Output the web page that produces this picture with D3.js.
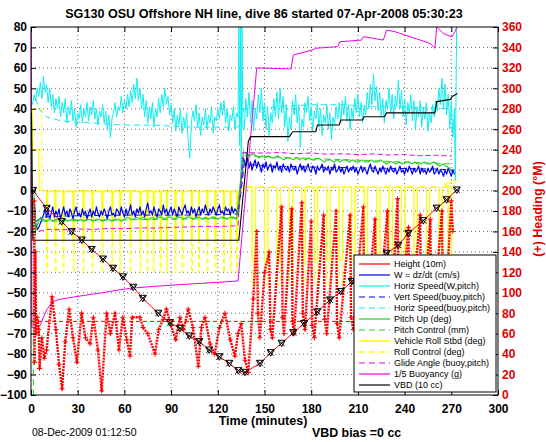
<!DOCTYPE html>
<html><head><meta charset="utf-8">
<script src="https://cdn.jsdelivr.net/npm/d3@7"></script>
<style>
body{margin:0;background:#fff;}
svg{display:block;font-family:"Liberation Sans",Arial,Helvetica,sans-serif;}
</style></head><body>
<svg id="c" width="546" height="442"></svg>
<script>
// ---------------- DATA ----------------
const titleText = "SG130 OSU Offshore NH line, dive 86 started 07-Apr-2008 05:30:23";
const xTicks = [0,30,60,90,120,150,180,210,240,270,300];
const yTicks = [80,70,60,50,40,30,20,10,0,-10,-20,-30,-40,-50,-60,-70,-80,-90,-100];
const rTicks = [0,20,40,60,80,100,120,140,160,180,200,220,240,260,280,300,320,340,360];
const legendLabels = ["Height (10m)","W = dz/dt (cm/s)","Horiz Speed(W,pitch)","Vert Speed(buoy,pitch)","Horiz Speed(buoy,pitch)","Pitch Up (deg)","Pitch Control (mm)","Vehicle Roll Stbd (deg)","Roll Control (deg)","Glide Angle (buoy,pitch)","1/5 Buoyancy (g)","VBD (10 cc)"];

// depth (Height, 10 m units)
const depthT = [1.3,10.1,19.7,26.1,32.6,39,46.3,52.7,59.1,65.7,71.8,81.8,89.3,95.7,101.7,108.1,114.5,121,127.4,133.2,137.5,147.1,154,161,168.5,175.4,183.9,192.1,199,206,228.5,236,242.4,252,260.6,267,273.5];
const depthV = [0,-8.7,-15.2,-20.1,-24.2,-28.8,-33.5,-38,-42.2,-47.3,-52.7,-60,-64.6,-67.4,-71.1,-73.9,-78,-81.3,-84.5,-88.1,-88.9,-84.5,-79.3,-74.7,-69.5,-65,-59.3,-53.5,-49.4,-44.5,-30.7,-26.7,-20.9,-14.7,-8.6,-4.5,0.3];

// Horiz speed (W,pitch): 1-minute samples
const hspdDescStart = 1;
const hspdDesc = [42,47,44,50,46,53,45,56,48,52, 43,50,41,47,38,45,40,46,36,43, 38,45,33,41,37,44,34,40,31,38,
 35,42,33,40,36,43,34,41,37,44, 35,40,32,39,36,42,33,39,30,37, 26,35,38,43,36,41,39,46,38,44,
 40,47,41,49,43,52,45,55,44,50, 40,47,36,44,33,41,35,43,31,40, 36,45,38,47,41,50,42,46,37,42,
 33,40,29,37,32,40,28,36,31,38, 24,16,33,39,34,42,31,38,27,36, 32,40,30,37,33,41,28,36,34,40,
 35,43,37,44,33,40,29,37,34,41, 30,38,36];
const hspdSpikeT = [133.5,134,134.5,135,135.5,136.2];
const hspdSpikeV = [80,22,80,6,80,30];
const hspdAscStart = 137;
const hspdAsc = [30,45,36,48,33,44,29,40,35,47, 38,50,34,43,30,41,27,38,33,45, 36,48,35,50,38,46,31,42,24,36,
 30,44,37,47,33,42,21,35,31,43, 38,46,34,41,29,39,35,43,31,40, 27,37,33,42,30,38,25,36,32,41,
 35,43,33,44,37,46,34,42,30,40, 35,45,38,47,36,43,33,41,37,48, 40,52,42,57,44,51,39,48,36,45,
 33,44,40,50,38,47,35,46,41,54, 40,49,36,45,32,43,38,47,34,44, 30,41,36,44,31,40,35,43,29,38,
 33,42,36,44,39,50,42,55,40,52, 37,47,30,44,26,40];
const hspdEndT = [272.6,273.4];
const hspdEndV = [5,80];

// Horiz speed (buoy,pitch)
const hspdBuoyT = [3,5,10,20,40,60,80,100,133,137,140,160,180,200,220,240,270];
const hspdBuoyV = [45,40,36,34,33,32,32,31,31,40,40,41,42,42,41,41,40];

// W = dz/dt : 1-minute samples
const wDescStart = 2;
const wDesc = [-4,-16,-19,-18,-16,-14,
 -12,-9,-13,-10,-14,-11,-8,-13,-10,-12, -9,-14,-11,-8,-12,-10,-13,-9,-11,-14, -10,-8,-12,-11,-13,-9,-12,-10,-14,-11,
 -9,-13,-10,-12,-8,-11,-13,-10,-12,-9, -11,-14,-10,-8,-12,-11,-13,-9,-10,-12, -8,-11,-13,-9,-12,-10,-7,-12,-10,-13,
 -9,-11,-8,-12,-10,-13,-9,-6,-11,-10, -12,-8,-11,-13,-9,-10,-12,-7,-11,-9, -12,-10,-8,-12,-9,-11,-13,-8,-10,-12,
 -9,-7,-11,-10,-12,-8,-11,-9,-13,-10, -8,-12,-9,-11,-7,-10,-12,-9,-11,-8, -10,-12,-9,-7,-11,-10,-12,-8,-10,-9,
 -12,-8,-11,-9,-10,-12];
const wTurnT = [134,135.5,136.5];
const wTurnV = [-4,8,16];
const wAscStart = 137;
const wAsc = [15,12,16,11,14,10,13,15,11,14, 12,9,13,11,14,10,12,13,9,12, 11,14,10,12,9,13,11,10,12,9,
 13,11,10,12,8,11,13,10,12,9, 11,13,10,9,12,11,8,12,10,11, 13,9,11,10,12,8,11,10,13,9,
 10,12,9,11,8,10,12,9,11,10, 12,9,11,8,10,12,9,11,10,8, 11,13,10,9,12,10,8,11,9,12,
 10,8,11,9,12,10,9,11,8,10, 12,9,10,8,11,9,12,10,8,11, 9,10,12,8,11,9,10,8,11,9,
 10,12,8,9,11,8,10,9,7,10, 8,11,9,7,10,8];

// Vert speed (buoy,pitch)
const wBuoyT = [3,8,20,60,100,133,135,137,150,180,220,260,272];
const wBuoyV = [-15,-13,-12.5,-12,-12,-11.5,0,13,12,11.5,11,10.5,10];

// Pitch up: 2-minute samples
const pitchHeadT = [2,3];
const pitchHeadV = [-2,-20];
const pitchDescStart = 4;
const pitchDesc = [-17,-13,-14,-15,-14,-15,-14,-14,-15,-14, -15,-14,-14,-15,-14,-15,-14,-14,-15,-14,
 -14,-15,-14,-14,-15,-14,-14,-15,-14,-13, -14,-14,-13,-14,-13,-14,-14,-13,-14,-13, -13,-14,-13,-13,-14,-13,-13,-14,-13,-13,
 -14,-13,-13,-14,-13,-14,-13,-13,-14,-13, -13,-14,-13,-13,-14];
const pitchAscStart = 136.5;
const pitchAsc = [19,18,17,18,17,16,17,16,17,16, 16,17,16,15,16,16,15,16,15,16, 15,16,15,15,16,15,14,15,15,14,
 15,14,15,15,14,15,14,14,15,14, 14,15,14,14,15,14,13,14,14,13, 14,13,14,14,13,14,13,13,14,13,
 13,14,13,12,13,12,11,10];

// Pitch control
const pitchCtlT = [1.5,1.5,3,133,136.5,272];
const pitchCtlV = [-105,-62,-15,-13.5,17,13];

// Roll (solid) and roll control (dashed): baseline and dip times
const rollStartT = [0.5,0.8,1.2,5,5.3];
const rollStartV = [0,40,20,20,0];
const rollDipsDesc = [10,15.4,20.5,27,33.4,39.2,45.6,52,57,63.6,70,74.5,78.5,83,87,92.5,97,103,107.6,113,118.2,123.6,128,132];
const rollDipsAsc = [142,150,158,166,174,182,190,198,206,214,222,230,238,246,254,262,268];
const rollCtlStartT = [0.5,6.9,6.9];
const rollCtlStartV = [40,40,0];

// Glide angle (buoy,pitch)
const glideT = [5,10,20,30,40,50,60,70,80,90,100,110,120,133,136,140,150,160,170,180,190,200,210,220,230,240,250,260,270];
const glideV = [-20,-19,-19.2,-18.8,-19,-18.5,-18.7,-18.2,-18.4,-18,-17.8,-17.5,-17.6,-17.2,18.5,18.5,18.3,18.6,18,18.4,17.8,18,17.6,17.9,17.4,17.6,17,17.3,16.8];

// 1/5 Buoyancy
const buoyT = [0.2,0.6,4,6,8,10,14,18,23,35,44,55,64,80,100,120,133,145,167,168.5,181,183,197,198.5,212.4,213.5,226.3,228.5,233.8,256.3,259.5,260.6,264.9,270.3,272.4,273.5];
const buoyV = [80,-67,-67.5,-65.8,-62,-58.4,-54.3,-53.3,-52.6,-51.2,-50.2,-48.8,-47.8,-46.8,-45.8,-44.9,-44.2,60,59.5,66.3,68.8,69.6,70.4,72.8,73.6,75.3,73.6,78.5,77.7,72,69.6,80,76.8,75.2,77.7,80];

// VBD (10 cc)
const vbdT = [0.3,1.2,133.5,139.6,141,166,168,183,184,198,199,213,214,227,228.5,259.5,260.6,269.5,270.5,274];
const vbdV = [38,-24.3,-24.3,24,26.4,26.4,28.8,28.8,32.1,32.1,34.5,34.5,36.1,36.1,38,38,43.5,44.6,46,47.5];

// Heading (degrees, right axis)
const headT = [2.0,2.3,2.8,3.3,4,5,5.5,7,8.5,10,13.5,16,18,20,22,24.5,27,29.5,32.5,35,38,40,43,45.4,48.6,51,54,56.5,59,61.5,63.6,65,70,72,75,79.7,82,85,87,90,93,95.7,98,101,104,107.5,109.5,111.8,115,118,121,124.6,128,131,133,135,137.5,139.6,
 142.8,145,145.8,147,150,153,153.8,155,161,161.6,162.5,167.5,168,169,174,174.6,176,180,180.6,182,188,188.6,190,196,196.6,198,205,205.6,207,213.5,214,215.5,221,221.6,223,229,229.6,231,235.5,236,237.5,242.5,243,244.5,250,250.6,252,256.5,257,258.5,264,264.6,266,270,271];
const headV = [190,32,140,60,76,64,26,56,36,44,96,64,30,6,52,84,56,32,80,56,50,76,44,4,80,60,80,44,76,54,38,76,76,66,60,40,64,74,84,68,54,76,64,84,66,28,66,76,50,40,66,80,54,38,60,70,34,22,
 94,160,80,56,120,140,64,56,184,76,60,182,72,60,188,80,64,170,68,56,176,74,60,180,70,56,176,76,64,184,80,68,172,84,72,180,76,68,192,90,76,164,88,76,176,80,70,172,84,74,180,84,76,190,160];
const headDesired = 72;

// ---------------- DRAW ----------------
const P = {l:31, r:498, t:27, b:395};
const x = d3.scaleLinear().domain([0,300]).range([P.l,P.r]);
const yL = d3.scaleLinear().domain([-100,80]).range([P.b,P.t]);
const yR = d3.scaleLinear().domain([0,360]).range([P.b,P.t]);
const svg = d3.select('#c');

const C = {red:'#ff0000', blue:'#0000f0', cyan:'#10eef0', green:'#22cc22', yellow:'#ffff00', magenta:'#ee00ee', black:'#000000'};

svg.append('defs').append('clipPath').attr('id','clip').append('rect')
  .attr('x',P.l).attr('y',P.t).attr('width',P.r-P.l).attr('height',P.b-P.t);

// grid
const grid = svg.append('g').attr('stroke','#444').attr('stroke-width',0.8).attr('stroke-dasharray','1,3');
xTicks.filter(t=>t>0&&t<300).forEach(t=>grid.append('line').attr('x1',x(t)).attr('x2',x(t)).attr('y1',P.t).attr('y2',P.b));
yTicks.filter(t=>t>-100&&t<80).forEach(t=>grid.append('line').attr('x1',P.l).attr('x2',P.r).attr('y1',yL(t)).attr('y2',yL(t)));

const seq = (t0, step, vals) => vals.map((v,i)=>[t0+i*step, v]);
const pairs = (ts, vs) => ts.map((t,i)=>[t, vs[i]]);
function squareWave(dips, width, base, depth){
  const pts=[];
  dips.forEach(d=>{pts.push([d,base],[d,depth],[d+width,depth],[d+width,base]);});
  return pts;
}

const plot = svg.append('g').attr('clip-path','url(#clip)');
const lineL = d3.line().x(d=>x(d[0])).y(d=>yL(d[1]));
const lineR = d3.line().x(d=>x(d[0])).y(d=>yR(d[1]));
function draw(pts, color, dash, w, gen){
  plot.append('path').attr('d',(gen||lineL)(pts)).attr('fill','none').attr('stroke',color)
    .attr('stroke-width',w||1).attr('stroke-dasharray',dash||null).attr('stroke-linejoin','round');
}

// roll control (dashed) and roll (solid)
const rollCtl = pairs(rollCtlStartT, rollCtlStartV)
  .concat(squareWave(rollDipsDesc, 0.7, 0, -40))
  .concat([[134,0],[137,2]])
  .concat(squareWave(rollDipsAsc, 2.2, 2, -46))
  .concat([[273,2]]);
draw(rollCtl, C.yellow, '5,3', 1);
const roll = pairs(rollStartT, rollStartV)
  .concat(squareWave(rollDipsDesc, 0.6, -0.5, -24))
  .concat([[134,-0.5],[137,1.5]])
  .concat(squareWave(rollDipsAsc, 2.2, 1.5, -34))
  .concat([[266,3],[272,5],[273,3]]);
draw(roll, C.yellow, null, 1.1);

// horizontal speeds
draw(pairs(hspdBuoyT, hspdBuoyV), C.cyan, '6,4', 1);
const hspd = seq(hspdDescStart,1,hspdDesc).concat(pairs(hspdSpikeT,hspdSpikeV))
  .concat(seq(hspdAscStart,1,hspdAsc)).concat(pairs(hspdEndT,hspdEndV));
draw(hspd, C.cyan, null, 1);

// vertical speeds
draw(pairs(wBuoyT,wBuoyV), C.blue, '6,4', 1);
const w = seq(wDescStart,1,wDesc).concat(pairs(wTurnT,wTurnV)).concat(seq(wAscStart,1,wAsc));
draw(w, C.blue, null, 1.2);

// pitch
draw(pairs(pitchCtlT,pitchCtlV), C.green, '6,4', 1);
const pitch = pairs(pitchHeadT,pitchHeadV).concat(seq(pitchDescStart,2,pitchDesc)).concat(seq(pitchAscStart,2,pitchAsc));
draw(pitch, C.green, null, 1.1);

// glide angle
draw(pairs(glideT,glideV), C.magenta, '5,3', 1);
// buoyancy
draw(pairs(buoyT,buoyV), C.magenta, null, 1);
// VBD
draw(pairs(vbdT,vbdV), C.black, null, 1.1);

// heading (right axis)
plot.append('line').attr('x1',x(0)).attr('x2',x(274)).attr('y1',yR(headDesired)).attr('y2',yR(headDesired))
  .attr('stroke',C.red).attr('stroke-width',1).attr('stroke-dasharray','4,3');
const head = pairs(headT, headV);
draw(head, C.red, '2,1', 2.4, lineR);
plot.append('g').selectAll('path').data(head).join('path')
  .attr('transform',d=>`translate(${x(d[0])},${yR(d[1])})`)
  .attr('d','M-2.5,0H2.5M0,-2.5V2.5').attr('stroke',C.red).attr('stroke-width',1);

// depth
const depth = pairs(depthT, depthV);
draw(depth, C.red, null, 1);
const mk = plot.append('g').attr('fill','none').attr('stroke','#000').attr('stroke-width',1);
mk.selectAll('path').data(depth).join('path')
  .attr('transform',d=>`translate(${x(d[0])},${yL(d[1])})`)
  .attr('d','M-3,-3L3,3M-3,3L3,-3M-3.5,-3L3.5,-3L0,3.5Z');

// frame
svg.append('rect').attr('x',P.l).attr('y',P.t).attr('width',P.r-P.l).attr('height',P.b-P.t)
  .attr('fill','none').attr('stroke','#000').attr('stroke-width',1);

// axes
const fontTick = g=>g.selectAll('text').attr('font-size','12px').attr('font-weight','bold').attr('font-family','"Liberation Sans",Arial,sans-serif');
const ax = svg.append('g').attr('transform',`translate(0,${P.b})`)
  .call(d3.axisBottom(x).tickValues(xTicks).tickSizeInner(-5).tickSizeOuter(0).tickPadding(9));
ax.call(fontTick); ax.select('.domain').remove(); ax.selectAll('text').attr('fill','#000');
const axt = svg.append('g').attr('transform',`translate(0,${P.t})`)
  .call(d3.axisTop(x).tickValues(xTicks).tickSizeInner(-5).tickSizeOuter(0).tickFormat(''));
axt.select('.domain').remove();
const ayl = svg.append('g').attr('transform',`translate(${P.l},0)`)
  .call(d3.axisLeft(yL).tickValues(yTicks).tickSizeInner(-5).tickSizeOuter(0).tickPadding(4));
ayl.call(fontTick); ayl.select('.domain').remove(); ayl.selectAll('text').attr('fill','#000');
const ayr = svg.append('g').attr('transform',`translate(${P.r},0)`)
  .call(d3.axisRight(yR).tickValues(rTicks).tickSizeInner(-5).tickSizeOuter(0).tickPadding(4));
ayr.call(fontTick); ayr.select('.domain').remove(); ayr.selectAll('text').attr('fill','#e00000');

// texts
svg.append('text').attr('x',264).attr('y',18).attr('text-anchor','middle')
  .attr('font-size','12.6px').attr('font-weight','bold').text(titleText);
svg.append('text').attr('x',263).attr('y',425).attr('text-anchor','middle')
  .attr('font-size','12.5px').attr('font-weight','bold').text('Time (minutes)');
svg.append('text').attr('x',32).attr('y',435.5).attr('font-size','10.5px').text('08-Dec-2009 01:12:50');
svg.append('text').attr('x',312).attr('y',437).attr('font-size','12.4px').attr('font-weight','bold').text('VBD bias =0 cc');
svg.append('text').attr('transform','translate(542,209) rotate(-90)').attr('text-anchor','middle')
  .attr('font-size','12.5px').attr('font-weight','bold').attr('fill','#e00000').text('(+) Heading (°M)');

// legend
const legColors = [C.red,C.blue,C.cyan,C.blue,C.cyan,C.green,C.green,C.yellow,C.yellow,C.magenta,C.magenta,C.black];
const legDash = [null,null,null,'6,4','6,4',null,'6,4',null,'6,4','6,4',null,null];
const lg = svg.append('g');
lg.append('rect').attr('x',354).attr('y',255).attr('width',142).attr('height',137)
  .attr('fill','#fff').attr('stroke','#000').attr('stroke-width',1);
legendLabels.forEach((lab,i)=>{
  const yy = 264 + i*11;
  lg.append('line').attr('x1',359).attr('x2',390).attr('y1',yy).attr('y2',yy)
    .attr('stroke',legColors[i]).attr('stroke-width',legColors[i]===C.yellow?1.6:1.2).attr('stroke-dasharray',legDash[i]);
  lg.append('text').attr('x',394).attr('y',yy).attr('dy','0.35em').attr('font-size','9px').text(lab);
});
</script>
</body></html>
